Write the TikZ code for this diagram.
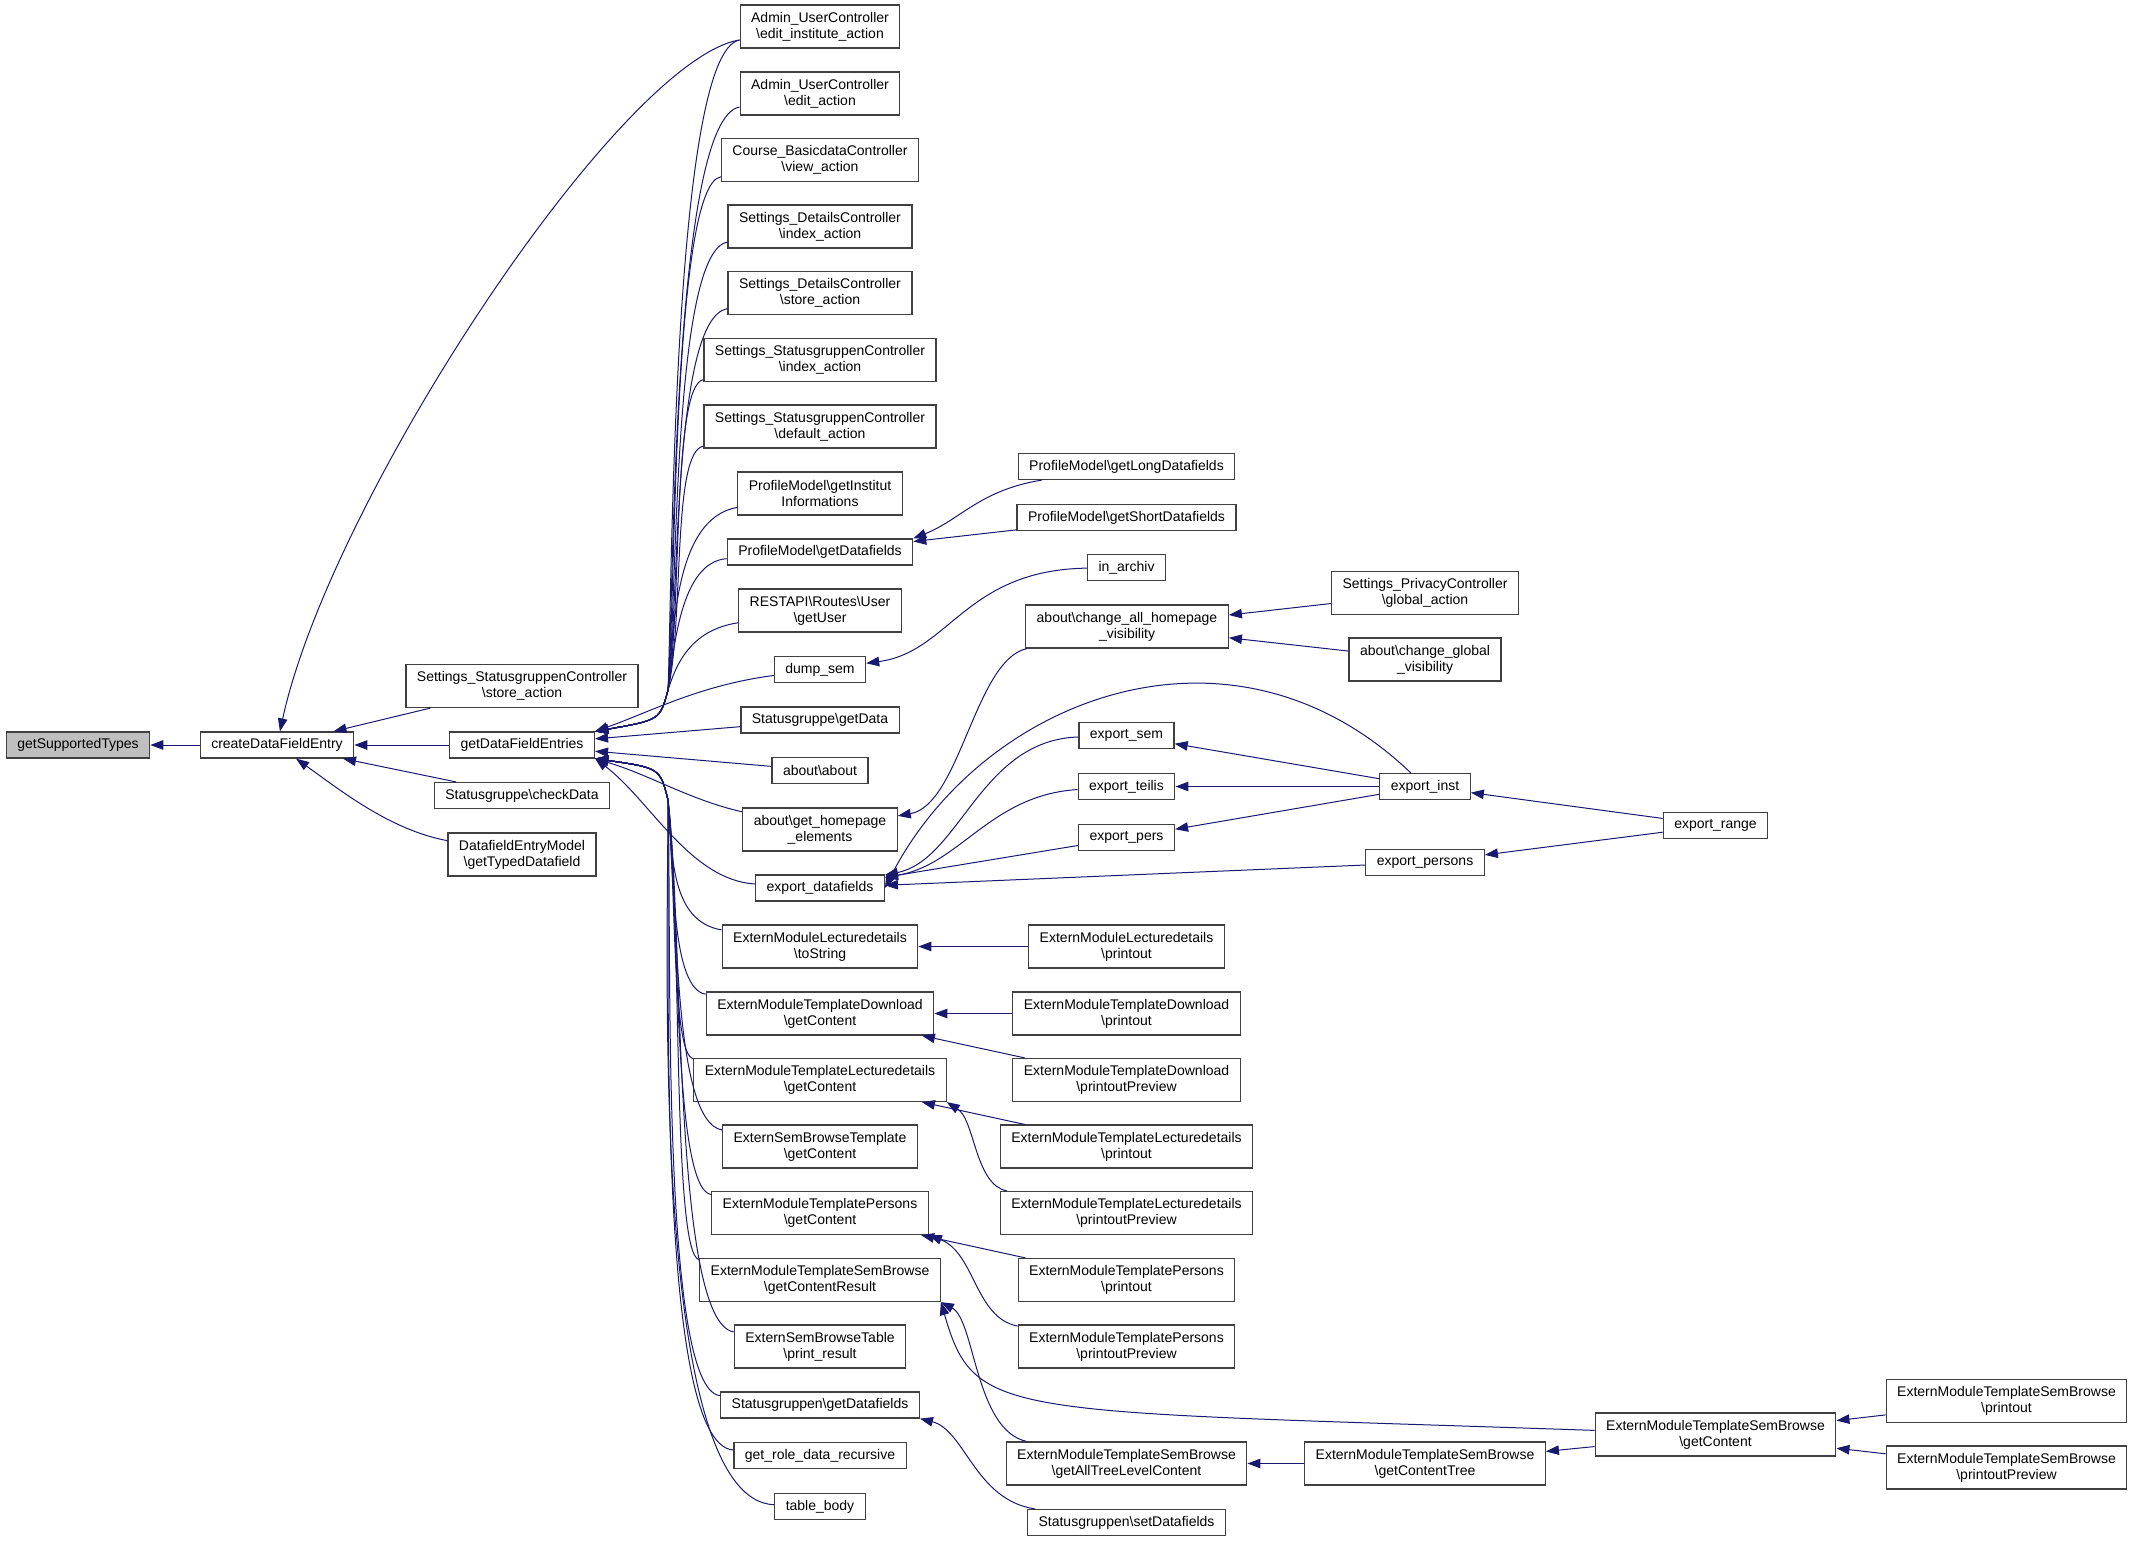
\documentclass[tikz,border=0pt]{standalone}
\usepackage{fontspec}
\setmainfont{Liberation Sans}
\usepackage{tikz}
\usetikzlibrary{arrows.meta}
\definecolor{edgeblue}{HTML}{191970}
\definecolor{boxline}{HTML}{404040}
\definecolor{focusfill}{HTML}{BFBFBF}
\newcommand{\bsl}{\textbackslash}

\begin{document}
\begin{tikzpicture}[
  x=1pt,y=-1pt,
  func/.style={draw=boxline,line width=1.2pt,fill=white,inner xsep=11pt,inner ysep=2pt,
    minimum height=26pt,align=center,font=\fontsize{14}{16}\selectfont},
  tall/.style={func,minimum height=43pt},
  focus/.style={func,fill=focusfill},
  call/.style={<-,>={Triangle[length=13pt,width=9.5pt]},draw=edgeblue,line width=1pt}]

  \useasboundingbox (0,0) rectangle (2133,1541);

  % Position the nodes at the places of the call graph
  \node[focus] (GST) at (78,745) {getSupportedTypes};
  \node[func] (CDFE) at (277,745) {createDataFieldEntry};

  \node[tall] (SSCstore) at (522,686) {Settings\_StatusgruppenController\\\bsl store\_action};
  \node[func] (GDFE) at (522,745) {getDataFieldEntries};
  \node[func] (SGcheck) at (522,795.5) {Statusgruppe\bsl checkData};
  \node[tall] (DEMtyped) at (522,854.5) {DatafieldEntryModel\\\bsl getTypedDatafield};

  \node[tall] (AUCinst) at (820,26.5) {Admin\_UserController\\\bsl edit\_institute\_action};
  \node[tall] (AUCedit) at (820,93.5) {Admin\_UserController\\\bsl edit\_action};
  \node[tall] (CBCview) at (820,160) {Course\_BasicdataController\\\bsl view\_action};
  \node[tall] (SDCindex) at (820,226.5) {Settings\_DetailsController\\\bsl index\_action};
  \node[tall] (SDCstore) at (820,293) {Settings\_DetailsController\\\bsl store\_action};
  \node[tall] (SSCindex) at (820,360) {Settings\_StatusgruppenController\\\bsl index\_action};
  \node[tall] (SSCdefault) at (820,426.5) {Settings\_StatusgruppenController\\\bsl default\_action};
  \node[tall] (PMinst) at (820,493.5) {ProfileModel\bsl getInstitut\\Informations};
  \node[func] (PMdf) at (820,552) {ProfileModel\bsl getDatafields};
  \node[tall] (RESTuser) at (820,610.5) {RESTAPI\bsl Routes\bsl User\\\bsl getUser};
  \node[func] (dump) at (820,669.5) {dump\_sem};
  \node[func] (SGdata) at (820,720) {Statusgruppe\bsl getData};
  \node[func] (about) at (820,770.5) {about\bsl about};
  \node[tall] (homepage) at (820,829.5) {about\bsl get\_homepage\\\_elements};
  \node[func] (expdf) at (820,888) {export\_datafields};
  \node[tall] (EMLtostr) at (820,946.5) {ExternModuleLecturedetails\\\bsl toString};
  \node[tall] (EMTDgc) at (820,1013.5) {ExternModuleTemplateDownload\\\bsl getContent};
  \node[tall] (EMTLgc) at (820,1080) {ExternModuleTemplateLecturedetails\\\bsl getContent};
  \node[tall] (ESBTgc) at (820,1146.5) {ExternSemBrowseTemplate\\\bsl getContent};
  \node[tall] (EMTPgc) at (820,1213) {ExternModuleTemplatePersons\\\bsl getContent};
  \node[tall] (EMTSBgcr) at (820,1280) {ExternModuleTemplateSemBrowse\\\bsl getContentResult};
  \node[tall] (ESBTabprint) at (820,1346.5) {ExternSemBrowseTable\\\bsl print\_result};
  \node[func] (SGNgetdf) at (820,1405) {Statusgruppen\bsl getDatafields};
  \node[func] (rolerec) at (820,1455.5) {get\_role\_data\_recursive};
  \node[func] (tablebody) at (820,1506.5) {table\_body};

  \node[func] (PMlong) at (1126.5,466.5) {ProfileModel\bsl getLongDatafields};
  \node[func] (PMshort) at (1126.5,517.5) {ProfileModel\bsl getShortDatafields};
  \node[func] (inarchiv) at (1126.5,567.5) {in\_archiv};
  \node[tall] (chall) at (1127,626.5) {about\bsl change\_all\_homepage\\\_visibility};
  \node[func] (expsem) at (1126.5,735.5) {export\_sem};
  \node[func] (expteilis) at (1126.5,786.5) {export\_teilis};
  \node[func] (exppers) at (1126.5,837.5) {export\_pers};
  \node[tall] (EMLprint) at (1126.5,946.5) {ExternModuleLecturedetails\\\bsl printout};
  \node[tall] (EMTDprint) at (1126.5,1013.5) {ExternModuleTemplateDownload\\\bsl printout};
  \node[tall] (EMTDprev) at (1126.5,1080) {ExternModuleTemplateDownload\\\bsl printoutPreview};
  \node[tall] (EMTLprint) at (1126.5,1146.5) {ExternModuleTemplateLecturedetails\\\bsl printout};
  \node[tall] (EMTLprev) at (1126.5,1213) {ExternModuleTemplateLecturedetails\\\bsl printoutPreview};
  \node[tall] (EMTPprint) at (1126.5,1280) {ExternModuleTemplatePersons\\\bsl printout};
  \node[tall] (EMTPprev) at (1126.5,1346.5) {ExternModuleTemplatePersons\\\bsl printoutPreview};
  \node[tall] (EMTSBtree) at (1126.5,1463.5) {ExternModuleTemplateSemBrowse\\\bsl getAllTreeLevelContent};
  \node[func] (SGNsetdf) at (1126.5,1522.5) {Statusgruppen\bsl setDatafields};

  \node[tall] (SPCglobal) at (1425,593) {Settings\_PrivacyController\\\bsl global\_action};
  \node[tall] (chglobal) at (1425,659.5) {about\bsl change\_global\\\_visibility};
  \node[func] (expinst) at (1425,786.5) {export\_inst};
  \node[func] (exppersons) at (1425,862.5) {export\_persons};
  \node[tall] (EMTSBcttree) at (1425,1463.5) {ExternModuleTemplateSemBrowse\\\bsl getContentTree};

  \node[func] (exprange) at (1715.5,825.5) {export\_range};
  \node[tall] (EMTSBgc) at (1715.5,1434.5) {ExternModuleTemplateSemBrowse\\\bsl getContent};

  \node[tall] (EMTSBprint) at (2006.5,1401) {ExternModuleTemplateSemBrowse\\\bsl printout};
  \node[tall] (EMTSBprev) at (2006.5,1467.5) {ExternModuleTemplateSemBrowse\\\bsl printoutPreview};

  % Where the bundles from getDataFieldEntries turn up and down
  \coordinate (upfan) at (668,690);
  \coordinate (downfan) at (668,800);

  % Draw the calls, the arrow points at the called function
  \draw[call] (GST) -- (CDFE);
  \draw[call] (CDFE) .. controls (330,500) and (620,60) .. (AUCinst);
  \draw[call] (CDFE) -- (SSCstore);
  \draw[call] (CDFE) -- (GDFE);
  \draw[call] (CDFE) -- (SGcheck);
  \draw[call] (CDFE) .. controls (340,790) and (390,830) .. (DEMtyped);

  \draw[call] (GDFE.north east) .. controls (660,720) .. (upfan) .. controls (672,600) and (672,51.5) .. (AUCinst);
  \draw[call] (GDFE.north east) .. controls (660,720) .. (upfan) .. controls (674,600) and (672,118.5) .. (AUCedit);
  \draw[call] (GDFE.north east) .. controls (660,720) .. (upfan) .. controls (676,600) and (672,185) .. (CBCview);
  \draw[call] (GDFE.north east) .. controls (660,720) .. (upfan) .. controls (678,600) and (672,251.5) .. (SDCindex);
  \draw[call] (GDFE.north east) .. controls (660,720) .. (upfan) .. controls (680,600) and (672,318) .. (SDCstore);
  \draw[call] (GDFE.north east) .. controls (660,720) .. (upfan) .. controls (682,610) and (672,385) .. (SSCindex);
  \draw[call] (GDFE.north east) .. controls (660,720) .. (upfan) .. controls (684,620) and (672,451.5) .. (SSCdefault);
  \draw[call] (GDFE.north east) .. controls (660,720) .. (upfan) .. controls (674,640) and (672,518.5) .. (PMinst);
  \draw[call] (GDFE.north east) .. controls (660,720) .. (upfan) .. controls (674,650) and (680,562) .. (PMdf);
  \draw[call] (GDFE.north east) .. controls (660,720) .. (upfan) .. controls (676,665) and (690,630) .. (RESTuser);
  \draw[call] (GDFE.north east) .. controls (650,712) and (700,685) .. (dump);
  \draw[call] (GDFE) -- (SGdata);
  \draw[call] (GDFE) -- (about);
  \draw[call] (GDFE.south east) .. controls (650,775) and (690,800) .. (homepage);
  \draw[call] (GDFE.south east) .. controls (650,800) and (690,880) .. (expdf);
  \draw[call] (GDFE.south east) .. controls (660,768) .. (downfan) .. controls (672,860) and (672,921.5) .. (EMLtostr);
  \draw[call] (GDFE.south east) .. controls (660,768) .. (downfan) .. controls (674,880) and (672,988.5) .. (EMTDgc);
  \draw[call] (GDFE.south east) .. controls (660,768) .. (downfan) .. controls (676,890) and (672,1055) .. (EMTLgc);
  \draw[call] (GDFE.south east) .. controls (660,768) .. (downfan) .. controls (678,900) and (672,1121.5) .. (ESBTgc);
  \draw[call] (GDFE.south east) .. controls (660,768) .. (downfan) .. controls (680,910) and (672,1188) .. (EMTPgc);
  \draw[call] (GDFE.south east) .. controls (660,768) .. (downfan) .. controls (682,920) and (672,1255) .. (EMTSBgcr);
  \draw[call] (GDFE.south east) .. controls (660,768) .. (downfan) .. controls (684,930) and (672,1321.5) .. (ESBTabprint);
  \draw[call] (GDFE.south east) .. controls (660,768) .. (downfan) .. controls (672,940) and (660,1390) .. (SGNgetdf);
  \draw[call] (GDFE.south east) .. controls (660,768) .. (downfan) .. controls (670,950) and (655,1445) .. (rolerec);
  \draw[call] (GDFE.south east) .. controls (660,768) .. (downfan) .. controls (668,960) and (650,1500) .. (tablebody);

  \draw[call] (PMdf.north east) .. controls (960,520) and (980,490) .. (PMlong);
  \draw[call] (PMdf) -- (PMshort);
  \draw[call] (dump) .. controls (950,652) and (965,570) .. (inarchiv);
  \draw[call] (homepage) .. controls (960,805) and (975,660) .. (chall);
  \draw[call] (chall) -- (SPCglobal);
  \draw[call] (chall) -- (chglobal);
  \draw[call] (expdf.east) .. controls (980,700) and (1230,600) .. (expinst);
  \draw[call] (expdf) .. controls (960,860) and (980,740) .. (expsem);
  \draw[call] (expdf) .. controls (960,865) and (990,795) .. (expteilis);
  \draw[call] (expdf) -- (exppers);
  \draw[call] (expdf) -- (exppersons);
  \draw[call] (expsem) -- (expinst);
  \draw[call] (expteilis) -- (expinst);
  \draw[call] (exppers) -- (expinst);
  \draw[call] (expinst) -- (exprange);
  \draw[call] (exppersons) -- (exprange);

  \draw[call] (EMLtostr) -- (EMLprint);
  \draw[call] (EMTDgc) -- (EMTDprint);
  \draw[call] (EMTDgc) -- (EMTDprev);
  \draw[call] (EMTLgc) -- (EMTLprint);
  \draw[call] (EMTLgc.south east) .. controls (975,1120) and (975,1185) .. (EMTLprev);
  \draw[call] (EMTPgc) -- (EMTPprint);
  \draw[call] (EMTPgc.south east) .. controls (975,1253) and (975,1318) .. (EMTPprev);
  \draw[call] (EMTSBgcr.south east) .. controls (975,1320) and (975,1430) .. (EMTSBtree);
  \draw[call] (EMTSBgcr.south east) .. controls (975,1420) and (1000,1410) .. (EMTSBgc);
  \draw[call] (EMTSBtree) -- (EMTSBcttree);
  \draw[call] (EMTSBcttree) -- (EMTSBgc);
  \draw[call] (EMTSBgc) -- (EMTSBprint);
  \draw[call] (EMTSBgc) -- (EMTSBprev);
  \draw[call] (SGNgetdf.south east) .. controls (965,1430) and (975,1500) .. (SGNsetdf);
\end{tikzpicture}
\end{document}
